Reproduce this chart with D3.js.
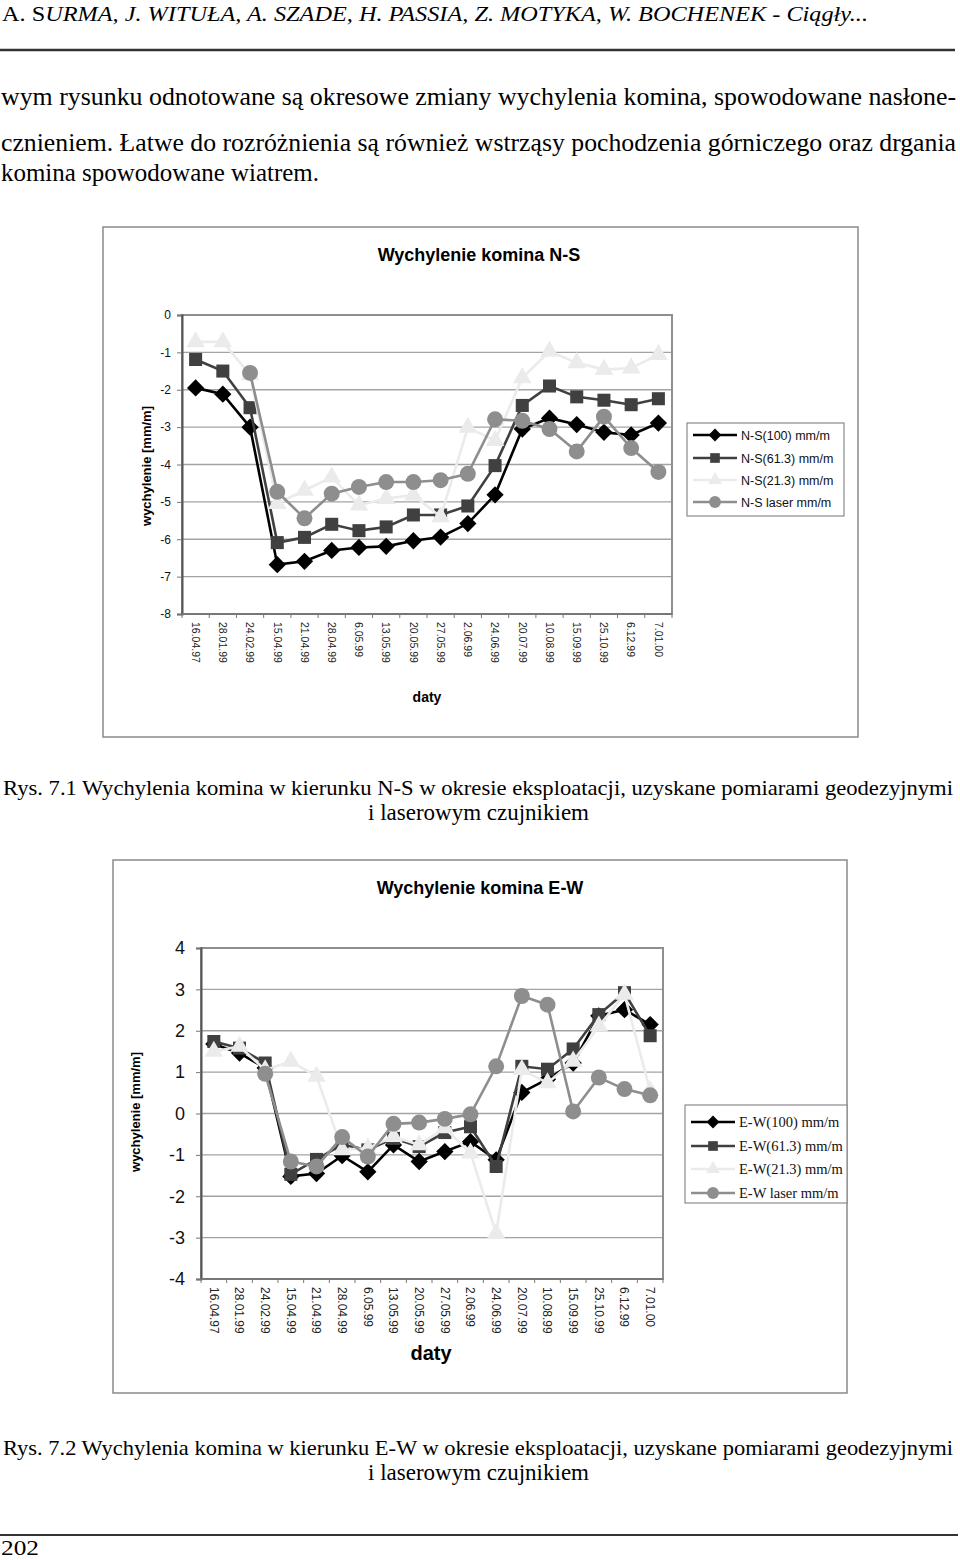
<!DOCTYPE html>
<html><head><meta charset="utf-8">
<script src="https://cdn.jsdelivr.net/npm/d3@7"></script>
<style>body{margin:0;background:#fff}svg{display:block}
.serif{font-family:"Liberation Serif","Times New Roman",Times,serif}
.sans{font-family:"Liberation Sans",Arial,Helvetica,sans-serif}
</style>
</head><body>
<svg id="page" width="960" height="1560"></svg>
<script>
// ---------- data ----------
const categories = ["16.04.97","28.01.99","24.02.99","15.04.99","21.04.99","28.04.99","6.05.99","13.05.99","20.05.99","27.05.99","2.06.99","24.06.99","20.07.99","10.08.99","15.09.99","25.10.99","6.12.99","7.01.00"];

const nsSeriesNames = ["N-S(100) mm/m","N-S(61.3) mm/m","N-S(21.3) mm/m","N-S laser mm/m"];
const ns100   = [-1.95,-2.12,-3.0,-6.68,-6.59,-6.30,-6.22,-6.19,-6.04,-5.94,-5.58,-4.81,-3.05,-2.76,-2.93,-3.14,-3.21,-2.89];
const ns613   = [-1.19,-1.50,-2.48,-6.09,-5.95,-5.60,-5.77,-5.67,-5.35,-5.35,-5.11,-4.03,-2.42,-1.90,-2.19,-2.28,-2.40,-2.24];
const ns213   = [-0.72,-0.72,-1.60,-5.05,-4.69,-4.34,-5.09,-4.91,-4.82,-5.40,-3.01,-3.36,-1.68,-0.97,-1.28,-1.46,-1.42,-1.06];
const nsLaser = [null,null,-1.55,-4.73,-5.44,-4.78,-4.60,-4.47,-4.47,-4.42,-4.25,-2.79,-2.83,-3.05,-3.65,-2.72,-3.56,-4.20];
const nsTicks = [0,-1,-2,-3,-4,-5,-6,-7,-8];

const ewSeriesNames = ["E-W(100) mm/m","E-W(61.3) mm/m","E-W(21.3) mm/m","E-W laser mm/m"];
const ew100   = [1.68,1.46,1.10,-1.52,-1.45,-1.02,-1.41,-0.76,-1.16,-0.92,-0.68,-1.12,0.51,0.83,1.22,2.36,2.51,2.15];
const ew613   = [1.74,1.58,1.22,-1.47,-1.11,-0.75,-0.88,-0.60,-0.80,-0.46,-0.32,-1.28,1.14,1.07,1.56,2.39,2.92,1.88];
const ew213   = [1.50,1.62,1.05,1.26,0.90,-0.88,-0.84,-0.56,-0.76,-0.35,-0.96,-2.90,1.06,0.74,1.26,2.11,2.88,0.55];
const ewLaser = [null,null,0.96,-1.16,-1.28,-0.57,-1.04,-0.25,-0.22,-0.13,-0.02,1.14,2.84,2.63,0.05,0.87,0.59,0.44];
const ewTicks = [4,3,2,1,0,-1,-2,-3,-4];

const seriesColors = ["#000000","#404040","#ebebeb","#8e8e8e"];
const seriesShapes = [d3.symbolDiamond2, d3.symbolSquare, d3.symbolTriangle, d3.symbolCircle];

// ---------- page text ----------
const svg = d3.select("#page");

const hdr = svg.append("text").attr("class","serif").attr("x",2).attr("y",21).attr("font-size",22)
  .attr("textLength",866).attr("lengthAdjust","spacingAndGlyphs");
hdr.append("tspan").text("A. S");
hdr.append("tspan").attr("font-style","italic").text("URMA, J. WITUŁA, A. SZADE, H. PASSIA, Z. MOTYKA, W. BOCHENEK - Ciągły...");
svg.append("line").attr("x1",0).attr("x2",955).attr("y1",50).attr("y2",50).attr("stroke","#333").attr("stroke-width",2.5);

const body = [
  {t:"wym rysunku odnotowane są okresowe zmiany wychylenia komina, spowodowane nasłone-", y:105, w:955},
  {t:"cznieniem. Łatwe do rozróżnienia są również wstrząsy pochodzenia górniczego oraz drgania", y:151, w:955},
  {t:"komina spowodowane wiatrem.", y:181, w:318}
];
body.forEach(b=>svg.append("text").attr("class","serif").attr("x",1).attr("y",b.y).attr("font-size",25)
  .attr("textLength",b.w).attr("lengthAdjust","spacingAndGlyphs").text(b.t));

function caption(num, dir, y){
  svg.append("text").attr("class","serif").attr("x",3).attr("y",y).attr("font-size",22)
    .attr("textLength",950).attr("lengthAdjust","spacingAndGlyphs")
    .text(`Rys. ${num} Wychylenia komina w kierunku ${dir} w okresie eksploatacji, uzyskane pomiarami geodezyjnymi`);
  svg.append("text").attr("class","serif").attr("x",368).attr("y",y+25).attr("font-size",23)
    .attr("textLength",221).attr("lengthAdjust","spacingAndGlyphs").text("i laserowym czujnikiem");
}
caption("7.1","N-S",795);
caption("7.2","E-W",1455);

svg.append("line").attr("x1",0).attr("x2",958).attr("y1",1535).attr("y2",1535).attr("stroke","#333").attr("stroke-width",2);
svg.append("text").attr("class","serif").attr("x",1).attr("y",1555).attr("font-size",22)
  .attr("textLength",38).attr("lengthAdjust","spacingAndGlyphs").text("202");

// ---------- chart ----------
function drawChart(c){
  const g = svg.append("g");
  g.append("rect").attr("x",c.box[0]).attr("y",c.box[1]).attr("width",c.box[2]-c.box[0]).attr("height",c.box[3]-c.box[1])
    .attr("fill","#fff").attr("stroke","#8a8a8a").attr("stroke-width",1.5);
  g.append("text").attr("class","sans").attr("x",c.titleX).attr("y",c.titleY).attr("text-anchor","middle")
    .attr("font-size",c.titleSize).attr("font-weight","bold").text(c.title);

  const x = d3.scaleBand().domain(categories).range([c.left,c.right]);
  const y = d3.scaleLinear().domain([d3.min(c.ticks),d3.max(c.ticks)]).range([c.bottom,c.top]);

  g.append("g").selectAll("line").data(c.ticks.filter(t=>t!==d3.min(c.ticks) && t!==d3.max(c.ticks))).join("line")
    .attr("x1",c.left).attr("x2",c.right).attr("y1",d=>y(d)).attr("y2",d=>y(d)).attr("stroke","#a3a3a3").attr("stroke-width",1.3);
  g.append("rect").attr("x",c.left).attr("y",c.top).attr("width",c.right-c.left).attr("height",c.bottom-c.top)
    .attr("fill","none").attr("stroke","#8f8f8f").attr("stroke-width",2);

  const ya = d3.axisLeft(y).tickValues(c.ticks).tickSize(5).tickPadding(c.yPad).tickFormat(d=>String(d));
  const yg = g.append("g").attr("transform",`translate(${c.left},0)`).call(ya);
  yg.attr("font-family",null).attr("font-size",null);
  yg.select(".domain").attr("stroke","#555").attr("stroke-width",2);
  yg.selectAll(".tick line").attr("stroke","#777");
  yg.selectAll("text").attr("class","sans").attr("font-size",c.yFont).attr("fill","#111");

  const xg = g.append("g");
  xg.append("line").attr("x1",c.left).attr("x2",c.right).attr("y1",c.bottom).attr("y2",c.bottom).attr("stroke","#777").attr("stroke-width",2);
  const bounds = categories.map(d=>x(d)).concat([c.right]);
  xg.selectAll("line.t").data(bounds).join("line").attr("class","t")
    .attr("x1",d=>d).attr("x2",d=>d).attr("y1",c.bottom).attr("y2",c.bottom+4).attr("stroke","#777");
  xg.selectAll("text").data(categories).join("text").attr("class","sans")
    .attr("transform",d=>`translate(${x(d)+x.bandwidth()/2 - c.xFont*0.35},${c.xLabelTop}) rotate(90)`)
    .attr("font-size",c.xFont).attr("fill","#222").text(d=>d);

  g.append("text").attr("class","sans").attr("x",c.datyX).attr("y",c.datyY).attr("text-anchor","middle")
    .attr("font-weight","bold").attr("font-size",c.datyFont).text("daty");
  g.append("text").attr("class","sans").attr("transform",`translate(${c.ylabX},${c.ylabY}) rotate(-90)`).attr("text-anchor","middle")
    .attr("font-weight","bold").attr("font-size",c.ylabFont).text("wychylenie [mm/m]");

  const cx = d=>x(d.cat)+x.bandwidth()/2;
  c.series.forEach((vals,i)=>{
    const pts = vals.map((v,j)=>({cat:categories[j],v})).filter(p=>p.v!==null);
    const line = d3.line().x(cx).y(p=>y(p.v));
    g.append("path").datum(pts).attr("d",line).attr("fill","none").attr("stroke",seriesColors[i]).attr("stroke-width",2.6);
    const sym = d3.symbol().type(seriesShapes[i]).size(c.symSize[i]);
    g.append("g").selectAll("path").data(pts).join("path")
      .attr("transform",p=>`translate(${cx(p)},${y(p.v)})`).attr("d",sym).attr("fill",seriesColors[i]);
  });

  const L = c.legend;
  g.append("rect").attr("x",L.x).attr("y",L.y).attr("width",L.w).attr("height",L.h).attr("fill","#fff").attr("stroke","#8a8a8a").attr("stroke-width",1.2);
  c.names.forEach((n,i)=>{
    const yy = L.rows[i];
    g.append("line").attr("x1",L.x+6).attr("x2",L.x+50).attr("y1",yy).attr("y2",yy).attr("stroke",seriesColors[i]).attr("stroke-width",2.6);
    g.append("path").attr("transform",`translate(${L.x+28},${yy})`).attr("d",d3.symbol().type(seriesShapes[i]).size(c.symSize[i]*0.55)()).attr("fill",seriesColors[i]);
    g.append("text").attr("class",L.cls).attr("x",L.x+54).attr("y",yy+4.5).attr("font-size",L.size).attr("fill","#111").text(n);
  });
}

drawChart({
  box:[103,227,858,737], title:"Wychylenie komina N-S", titleX:479, titleY:261, titleSize:18,
  left:182, right:672, top:315, bottom:614, ticks:nsTicks, yPad:6, yFont:12,
  xFont:10.5, xLabelTop:622, datyX:427, datyY:702, datyFont:14,
  ylabX:151, ylabY:466, ylabFont:13,
  series:[ns100,ns613,ns213,nsLaser], names:nsSeriesNames, symSize:[190,170,150,200],
  legend:{x:687,y:423,w:157,h:93,rows:[435,458,480,502],cls:"sans",size:12.5}
});
drawChart({
  box:[113,860,847,1393], title:"Wychylenie komina E-W", titleX:480, titleY:894, titleSize:18,
  left:201, right:663, top:948, bottom:1279, ticks:ewTicks, yPad:11, yFont:18,
  xFont:12, xLabelTop:1287, datyX:431, datyY:1360, datyFont:20,
  ylabX:140, ylabY:1112, ylabFont:13,
  series:[ew100,ew613,ew213,ewLaser], names:ewSeriesNames, symSize:[190,170,150,200],
  legend:{x:685,y:1105,w:162,h:98,rows:[1122,1146,1169,1193],cls:"serif",size:14.5}
});
</script>
</body></html>
